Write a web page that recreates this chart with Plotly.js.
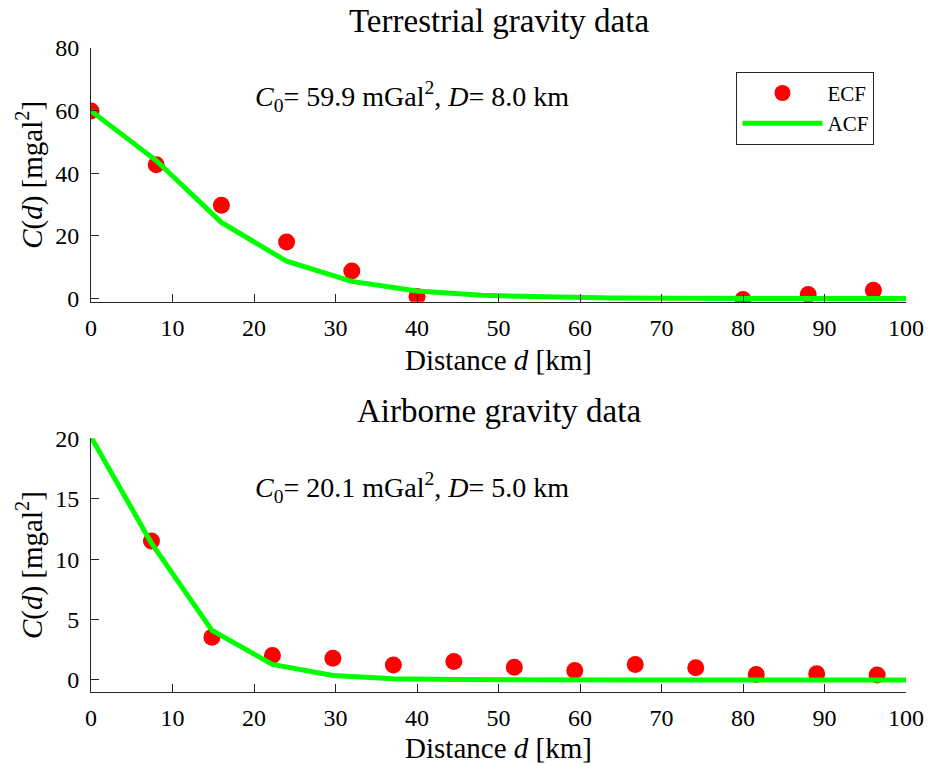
<!DOCTYPE html>
<html>
<head>
<meta charset="utf-8">
<script src="https://cdn.plot.ly/plotly-3.0.1.min.js"></script>
<style>
  html, body { margin: 0; padding: 0; background: #fff; }
  #chart { width: 938px; height: 764px; }
</style>
</head>
<body>
<div id="chart"></div>
<script>
// Terrestrial data: empirical covariance (ECF) and fitted analytical model (ACF)
const terrLagEcf = [0, 8, 16, 24, 32, 40, 80, 88, 96];
const terrEcf    = [59.9, 42.7, 29.8, 18.1, 8.8, 0.7, -0.3, 1.3, 2.7];
const terrLagAcf = [0, 8, 16, 24, 32, 40, 48, 56, 64, 72, 80, 88, 96, 100];
const terrAcf    = [59.9, 44.07, 24.32, 11.93, 5.49, 2.42, 1.04, 0.437, 0.181, 0.074, 0.030, 0.012, 0.005, 0.003];

// Airborne data
const airLagEcf = [7.42, 14.84, 22.26, 29.68, 37.1, 44.52, 51.94, 59.36, 66.78, 74.2, 81.62, 89.04, 96.46];
const airEcf    = [11.5, 3.54, 2.02, 1.79, 1.24, 1.52, 1.05, 0.77, 1.27, 1.0, 0.44, 0.5, 0.41];
const airLagAcf = [0, 7.42, 14.84, 22.26, 29.68, 37.1, 44.52, 51.94, 59.36, 66.78, 100];
const airAcf    = [20.1, 11.32, 4.10, 1.277, 0.368, 0.101, 0.027, 0.007, 0.002, 0.0005, 0];

const xTicks = [0, 10, 20, 30, 40, 50, 60, 70, 80, 90, 100];
const terrYTicks = [0, 20, 40, 60, 80];
const airYTicks = [0, 5, 10, 15, 20];

const SERIF = 'Liberation Serif, DejaVu Serif, serif';
const INK = '#262626';
const RED = '#ff0000';
const GREEN = '#00ff00';

const traces = [
  {
    x: terrLagEcf, y: terrEcf, xaxis: 'x', yaxis: 'y',
    type: 'scatter', mode: 'markers', name: 'ECF',
    marker: { color: RED, size: 17, line: { width: 0 } },
    showlegend: true, legendgroup: 'ecf'
  },
  {
    x: terrLagAcf, y: terrAcf, xaxis: 'x', yaxis: 'y',
    type: 'scatter', mode: 'lines', name: 'ACF',
    line: { color: GREEN, width: 5 },
    showlegend: true, legendgroup: 'acf'
  },
  {
    x: airLagEcf, y: airEcf, xaxis: 'x2', yaxis: 'y2',
    type: 'scatter', mode: 'markers', name: 'ECF',
    marker: { color: RED, size: 17, line: { width: 0 } },
    showlegend: false, legendgroup: 'ecf'
  },
  {
    x: airLagAcf, y: airAcf, xaxis: 'x2', yaxis: 'y2',
    type: 'scatter', mode: 'lines', name: 'ACF',
    line: { color: GREEN, width: 5 },
    showlegend: false, legendgroup: 'acf'
  }
];

function xAxis(anchor) {
  return {
    anchor: anchor, domain: [0, 1], range: [0, 100],
    tickmode: 'array', tickvals: xTicks,
    ticks: 'inside', ticklen: 8, tickwidth: 1, tickcolor: INK,
    showline: true, linecolor: INK, linewidth: 1,
    showgrid: false, zeroline: false,
    tickfont: { family: SERIF, size: 24, color: '#000' },
    ticklabelstandoff: 4,
    title: { text: 'Distance <i>d</i> [km]', font: { family: SERIF, size: 29, color: '#000' }, standoff: 10 }
  };
}

function yAxis(anchor, domain, range, ticks) {
  return {
    anchor: anchor, domain: domain, range: range,
    tickmode: 'array', tickvals: ticks,
    ticks: 'inside', ticklen: 8, tickwidth: 1, tickcolor: INK,
    showline: true, linecolor: INK, linewidth: 1,
    showgrid: false, zeroline: false,
    tickfont: { family: SERIF, size: 24, color: '#000' },
    ticklabelstandoff: 6,
    title: { text: '<i>C</i>(<i>d</i>) [mgal<sup>2</sup>]', font: { family: SERIF, size: 29, color: '#000' }, standoff: 4 }
  };
}

const layout = {
  width: 938, height: 764,
  paper_bgcolor: '#fff', plot_bgcolor: '#fff',
  margin: { l: 91, r: 32, t: 48, b: 72 },
  font: { family: SERIF, color: '#000' },
  xaxis: xAxis('y'),
  yaxis: yAxis('x', [0.606, 1], [-1, 80], terrYTicks),
  xaxis2: xAxis('y2'),
  yaxis2: yAxis('x2', [0, 0.394], [-1, 20], airYTicks),
  showlegend: true,
  legend: {
    x: 0.792, y: 0.963, xanchor: 'left', yanchor: 'top',
    bgcolor: '#fff', bordercolor: INK, borderwidth: 1,
    font: { family: SERIF, size: 21, color: '#000' },
    itemwidth: 80, tracegroupgap: 0
  },
  annotations: [
    {
      text: 'Terrestrial gravity data', xref: 'paper', yref: 'paper',
      x: 0.501, y: 1.042, xanchor: 'center', yanchor: 'middle', showarrow: false,
      font: { family: SERIF, size: 33, color: '#000' }
    },
    {
      text: 'Airborne gravity data', xref: 'paper', yref: 'paper',
      x: 0.501, y: 0.436, xanchor: 'center', yanchor: 'middle', showarrow: false,
      font: { family: SERIF, size: 33, color: '#000' }
    },
    {
      text: '<i>C</i><sub>0</sub>= 59.9 mGal<sup>2</sup>, <i>D</i>= 8.0 km',
      xref: 'x domain', yref: 'y domain', x: 0.3935, y: 0.808,
      xanchor: 'center', yanchor: 'middle', showarrow: false,
      font: { family: SERIF, size: 28, color: '#000' }
    },
    {
      text: '<i>C</i><sub>0</sub>= 20.1 mGal<sup>2</sup>, <i>D</i>= 5.0 km',
      xref: 'x2 domain', yref: 'y2 domain', x: 0.3935, y: 0.804,
      xanchor: 'center', yanchor: 'middle', showarrow: false,
      font: { family: SERIF, size: 28, color: '#000' }
    }
  ]
};

Plotly.newPlot('chart', traces, layout, { staticPlot: true, displayModeBar: false });
</script>
</body>
</html>
